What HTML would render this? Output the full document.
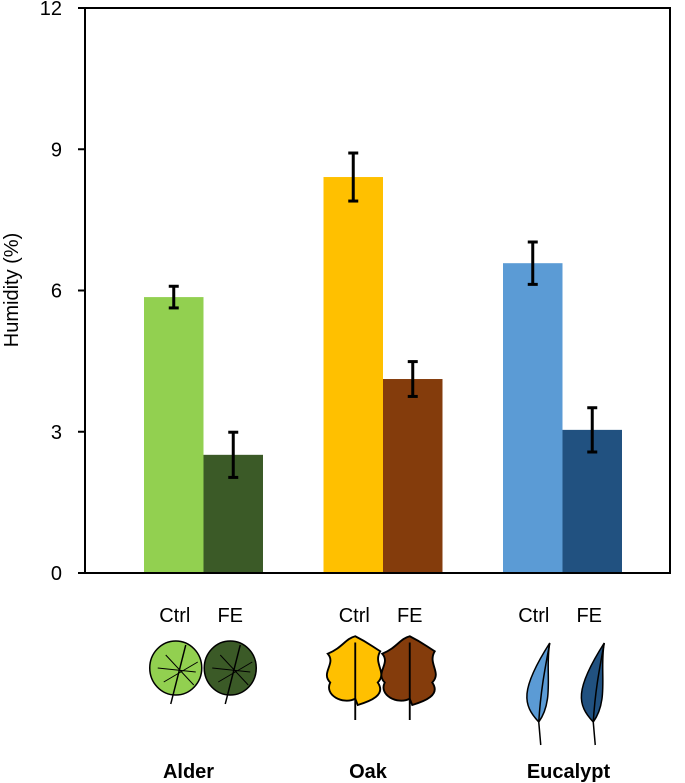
<!DOCTYPE html>
<html><head><meta charset="utf-8"><style>
body{margin:0;background:#fff;}
svg{display:block;font-family:"Liberation Sans",Arial,sans-serif;}
</style></head><body>
<svg id="chart" width="685" height="783" viewBox="0 0 685 783">
<rect x="0" y="0" width="685" height="783" fill="#fff"/>
<g id="bars"></g>
<g id="axes"></g>
<text x="18" y="290" transform="rotate(-90 18 290)" text-anchor="middle" font-size="20">Humidity (%)</text>
<g id="leaves"></g>
</svg>
<script>
const categories=["Alder","Oak","Eucalypt"];
const ctrlValues=[5.86,8.41,6.58];
const feValues=[2.51,4.12,3.04];
const ctrlErr=[0.23,0.51,0.45];
const feErr=[0.48,0.37,0.47];
const yTicks=[0,3,6,9,12];
const ctrlColors=["#92d050","#ffc000","#5b9bd5"];
const feColors=["#3b5a27","#843c0c","#215180"];

const NS="http://www.w3.org/2000/svg";
const X0=85,X1=670,Y0=573,Y1=8;
const y=v=>Y0-(v/12)*(Y0-Y1);
const groupStart=i=>144+i*179.5;
const BW=59.5;
function mk(tag,attrs,parent){const e=document.createElementNS(NS,tag);for(const k in attrs)e.setAttribute(k,attrs[k]);parent.appendChild(e);return e;}
const bars=document.getElementById('bars'),axes=document.getElementById('axes'),leaves=document.getElementById('leaves');

function errBar(cx,v,e,name){
  const g=mk('g',{stroke:'#000','stroke-width':3},bars);
  
  
  mk('line',{x1:cx,x2:cx,y1:y(v+e),y2:y(v-e)},g);
  mk('line',{x1:cx-5,x2:cx+5,y1:y(v+e),y2:y(v+e)},g);
  mk('line',{x1:cx-5,x2:cx+5,y1:y(v-e),y2:y(v-e)},g);
}
categories.forEach((c,i)=>{
  const x=groupStart(i);
  const r1=mk('rect',{x:x,y:y(ctrlValues[i]),width:BW,height:Y0-y(ctrlValues[i]),fill:ctrlColors[i]},bars);
  
  
  const r2=mk('rect',{x:x+BW,y:y(feValues[i]),width:BW,height:Y0-y(feValues[i]),fill:feColors[i]},bars);
  
  
  errBar(x+BW/2,ctrlValues[i],ctrlErr[i],'error-'+c.toLowerCase()+'-ctrl');
  errBar(x+BW*1.5,feValues[i],feErr[i],'error-'+c.toLowerCase()+'-fe');
  const t1=mk('text',{x:x+BW/2+1,y:622,'text-anchor':'middle','font-size':20},leaves);t1.textContent='Ctrl';
  
  
  const t2=mk('text',{x:x+BW*1.5-3,y:622,'text-anchor':'middle','font-size':20},leaves);t2.textContent='FE';
  
  
  const t3=mk('text',{x:x+BW+(i==2?6:-15),y:778,'text-anchor':'middle','font-size':20,'font-weight':'bold'},leaves);t3.textContent=c;
  
  
  [[x+BW/2+2,ctrlColors[i],'ctrl'],[x+BW*1.5-3,feColors[i],'fe']].forEach(([cx,col,k])=>{
    const g=mk('g',{fill:col,stroke:'#000','stroke-width':1.5},leaves);
    
    
    if(i==0){
      mk('ellipse',{cx:cx,cy:668,rx:26,ry:27},g);
      mk('path',{d:`M${cx-5} 704 L${cx+10} 645`,fill:'none'},g);
      mk('path',{d:`M${cx-12} 682 L${cx+22} 662 M${cx-18} 668 L${cx+20} 672 M${cx-10} 655 L${cx+18} 685`,fill:'none','stroke-width':1},g);
    }else if(i==1){
      g.setAttribute('transform',`translate(${cx} 670) scale(1.25) translate(${-cx} -670)`);
      mk('path',{d:`M${cx} 643 C${cx+10} 648 ${cx+12} 650 ${cx+20} 655 C${cx+14} 665 ${cx+26} 672 ${cx+18} 680 C${cx+25} 690 ${cx+12} 695 ${cx+2} 698 L${cx} 693 C${cx-10} 698 ${cx-25} 690 ${cx-20} 680 C${cx-28} 672 ${cx-15} 665 ${cx-22} 657 C${cx-10} 652 ${cx-8} 645 ${cx} 643Z`},g);
      mk('path',{d:`M${cx} 648 L${cx} 710`,fill:'none'},g);
    }else{
      mk('path',{d:`M${cx+15} 643 C${cx+10} 670 ${cx+20} 700 ${cx+4} 722 C${cx-12} 705 ${cx-15} 690 ${cx+15} 643Z`},g);
      mk('path',{d:`M${cx+4} 722 L${cx+6} 745 M${cx+4} 722 C${cx+6} 690 ${cx+10} 670 ${cx+15} 643`,fill:'none'},g);
    }
  });
});
const frame=mk('rect',{x:X0,y:Y1,width:X1-X0,height:Y0-Y1,fill:'none',stroke:'#000','stroke-width':2},axes);


yTicks.forEach(v=>{
  const l=mk('line',{x1:X0-7,x2:X0,y1:y(v),y2:y(v),stroke:'#000','stroke-width':2},axes);
  
  
  const t=mk('text',{x:X0-23,y:y(v)+7,'text-anchor':'end','font-size':20},axes);t.textContent=v;
  
  
});
</script>
</body></html>
